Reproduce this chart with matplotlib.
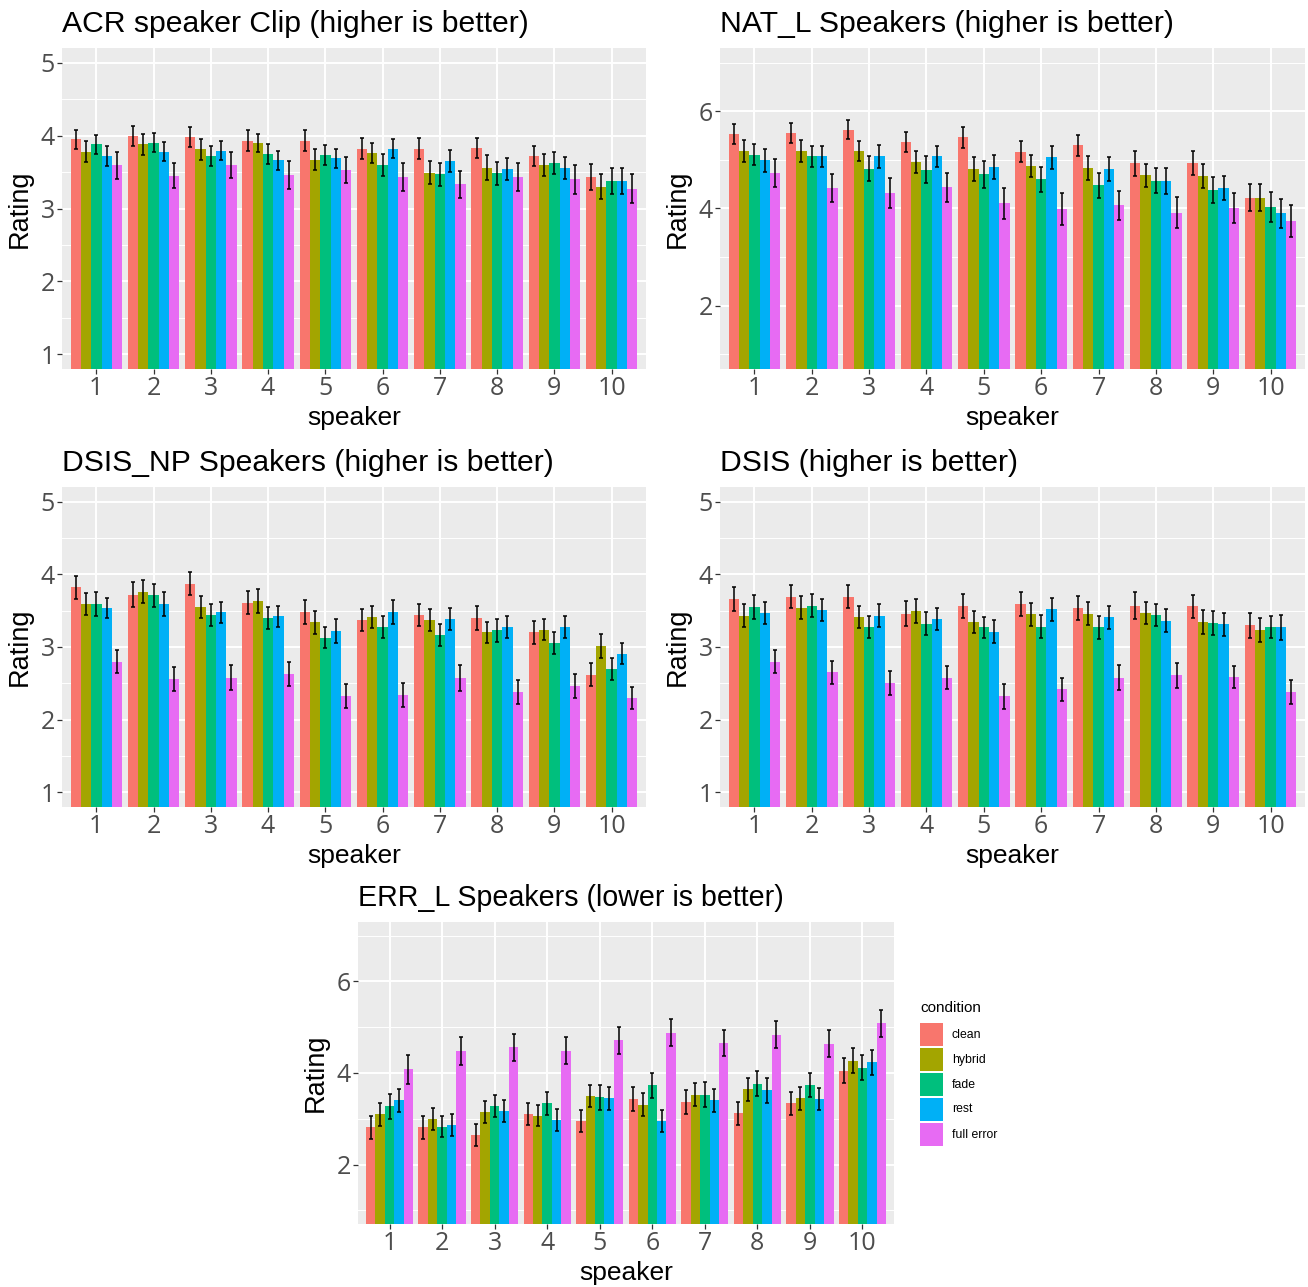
"""Speaker rating bar charts (ggplot-like) for five listening tests."""

import matplotlib
matplotlib.use("Agg")
import matplotlib.pyplot as plt
from matplotlib.patches import Rectangle
import numpy as np

W, H = 1308, 1287

speakers = list(range(1, 11))
conditions = ["clean", "hybrid", "fade", "rest", "full error"]
colors = ["#F8766D", "#A3A500", "#00BF7D", "#00B0F6", "#E76BF3"]

# rows = condition, columns = speaker 1..10
acr_mean = [
    [3.95, 3.99, 3.98, 3.93, 3.93, 3.82, 3.82, 3.83, 3.72, 3.43],
    [3.78, 3.88, 3.81, 3.90, 3.67, 3.76, 3.49, 3.56, 3.60, 3.30],
    [3.88, 3.90, 3.72, 3.75, 3.73, 3.60, 3.47, 3.48, 3.62, 3.38],
    [3.72, 3.78, 3.79, 3.66, 3.69, 3.82, 3.65, 3.54, 3.55, 3.38],
    [3.59, 3.45, 3.60, 3.46, 3.53, 3.43, 3.33, 3.43, 3.40, 3.27],
]
acr_err = [
    [.13, .14, .14, .14, .14, .145, .14, .14, .14, .18],
    [.14, .14, .14, .12, .14, .14, .155, .17, .15, .175],
    [.13, .13, .14, .14, .14, .15, .16, .155, .15, .18],
    [.14, .13, .13, .13, .13, .13, .15, .15, .15, .18],
    [.18, .17, .18, .19, .18, .19, .19, .19, .195, .20],
]

nat_mean = [
    [5.53, 5.55, 5.62, 5.37, 5.46, 5.17, 5.30, 4.93, 4.93, 4.22],
    [5.18, 5.18, 5.18, 4.95, 4.81, 4.88, 4.83, 4.68, 4.67, 4.22],
    [5.11, 5.07, 4.82, 4.80, 4.70, 4.60, 4.48, 4.57, 4.38, 4.03],
    [4.99, 5.07, 5.07, 5.07, 4.85, 5.05, 4.81, 4.56, 4.42, 3.90],
    [4.73, 4.42, 4.32, 4.44, 4.11, 3.99, 4.07, 3.91, 4.01, 3.74],
]
nat_err = [
    [.21, .21, .20, .21, .22, .21, .22, .26, .25, .28],
    [.22, .22, .21, .23, .25, .23, .25, .24, .24, .28],
    [.22, .22, .26, .27, .27, .26, .26, .26, .27, .30],
    [.24, .22, .24, .22, .24, .23, .24, .27, .25, .30],
    [.28, .29, .30, .30, .32, .32, .30, .32, .31, .33],
]

dsisnp_mean = [
    [3.82, 3.72, 3.87, 3.61, 3.48, 3.37, 3.44, 3.40, 3.20, 2.62],
    [3.59, 3.76, 3.55, 3.63, 3.34, 3.41, 3.37, 3.20, 3.24, 3.02],
    [3.59, 3.71, 3.44, 3.40, 3.13, 3.27, 3.16, 3.23, 3.06, 2.70],
    [3.54, 3.59, 3.48, 3.42, 3.22, 3.48, 3.39, 3.27, 3.27, 2.91],
    [2.80, 2.56, 2.58, 2.63, 2.33, 2.34, 2.57, 2.38, 2.47, 2.30],
]
dsisnp_err = [
    [.16, .17, .16, .16, .17, .155, .155, .17, .16, .16],
    [.15, .16, .15, .165, .16, .155, .15, .145, .15, .165],
    [.16, .16, .15, .15, .15, .15, .15, .155, .15, .15],
    [.14, .16, .145, .15, .16, .16, .15, .15, .15, .15],
    [.16, .165, .17, .17, .165, .165, .18, .165, .165, .155],
]

dsis_mean = [
    [3.66, 3.69, 3.69, 3.46, 3.57, 3.59, 3.53, 3.57, 3.56, 3.30],
    [3.43, 3.54, 3.41, 3.49, 3.34, 3.45, 3.46, 3.47, 3.35, 3.24],
    [3.55, 3.57, 3.28, 3.32, 3.27, 3.28, 3.27, 3.44, 3.33, 3.28],
    [3.47, 3.51, 3.43, 3.38, 3.21, 3.52, 3.41, 3.36, 3.31, 3.27],
    [2.80, 2.65, 2.50, 2.58, 2.32, 2.42, 2.58, 2.61, 2.59, 2.38],
]
dsis_err = [
    [.165, .16, .16, .175, .165, .165, .165, .18, .16, .17],
    [.16, .155, .15, .165, .15, .16, .16, .155, .165, .165],
    [.16, .155, .15, .155, .145, .16, .16, .145, .165, .15],
    [.155, .15, .155, .15, .16, .16, .16, .16, .155, .17],
    [.16, .16, .165, .16, .17, .16, .17, .17, .15, .16],
]

err_mean = [
    [2.81, 2.81, 2.65, 3.10, 2.95, 3.43, 3.37, 3.12, 3.34, 4.05],
    [3.10, 2.99, 3.15, 3.07, 3.50, 3.31, 3.53, 3.64, 3.45, 4.27],
    [3.27, 2.83, 3.27, 3.34, 3.47, 3.73, 3.53, 3.77, 3.74, 4.12],
    [3.40, 2.87, 3.18, 2.97, 3.45, 2.95, 3.40, 3.62, 3.43, 4.23],
    [4.08, 4.48, 4.56, 4.49, 4.72, 4.88, 4.65, 4.84, 4.64, 5.09],
]
err_err = [
    [.25, .25, .245, .245, .25, .26, .26, .25, .25, .275],
    [.25, .24, .245, .235, .245, .25, .25, .255, .25, .27],
    [.27, .23, .24, .25, .27, .275, .265, .275, .27, .28],
    [.245, .24, .24, .245, .25, .24, .25, .27, .24, .28],
    [.31, .30, .295, .295, .295, .30, .285, .295, .29, .295],
]

TITLE_FONT = ["Liberation Sans", "DejaVu Sans"]
TICK_FONT = ["Open Sans", "DejaVu Sans"]

fig = plt.figure(figsize=(W / 100, H / 100), dpi=100)


def px_axes(left, top, right, bottom):
    return fig.add_axes([left / W, 1 - bottom / H, (right - left) / W, (bottom - top) / H])


def draw_panel(rect, title, means, errs, scale, title_size=21.7):
    left, top, right, bottom = rect
    ax = px_axes(*rect)
    ax.set_facecolor("#EBEBEB")
    for s in ax.spines.values():
        s.set_visible(False)
    x = np.arange(1, 11)
    bw = 0.18
    for i, (m, e) in enumerate(zip(means, errs)):
        xi = x + (i - 2) * bw
        ax.bar(xi, m, width=bw, color=colors[i], zorder=2)
        ax.errorbar(xi, m, yerr=e, fmt="none", ecolor="black", elinewidth=1.1,
                    capsize=1.6, capthick=1.1, zorder=3)
    ax.set_xlim(0.4, 10.6)
    ax.set_xticks(x)
    ax.set_xticklabels([str(s) for s in speakers])
    if scale == 5:
        ax.set_ylim(0.8, 5.2)
        ax.set_yticks([1, 2, 3, 4, 5])
        ax.set_yticks([1.5, 2.5, 3.5, 4.5], minor=True)
    else:
        ax.set_ylim(0.7, 7.3)
        ax.set_yticks([2, 4, 6])
        ax.set_yticks([1, 3, 5, 7], minor=True)
    ax.set_axisbelow(True)
    ax.grid(True, which="major", color="white", linewidth=1.4, zorder=0)
    ax.grid(True, which="minor", axis="y", color="white", linewidth=0.7, zorder=0)
    ax.tick_params(which="major", length=3.5, width=0.9, color="#333333",
                   labelsize=18, labelcolor="#4D4D4D", pad=1.5)
    ax.tick_params(which="minor", length=0)
    for lab in ax.get_xticklabels() + ax.get_yticklabels():
        lab.set_family(TICK_FONT)

    fig.text(left / W, 1 - (top - 24) / H, title, fontsize=title_size, family=TITLE_FONT,
             ha="left", va="center")
    fig.text((left + right) / 2 / W, 1 - (bottom + 49) / H, "speaker", fontsize=19,
             family=TITLE_FONT, ha="center", va="center")
    fig.text((left - 42) / W, 1 - (top + bottom) / 2 / H, "Rating", fontsize=19.5,
             family=TITLE_FONT, ha="center", va="center", rotation=90)
    return ax


draw_panel((62, 48, 646, 369), "ACR speaker Clip (higher is better)", acr_mean, acr_err, 5)
draw_panel((720, 48, 1305, 369), "NAT_L Speakers (higher is better)", nat_mean, nat_err, 7)
draw_panel((62, 487, 646, 807), "DSIS_NP Speakers (higher is better)", dsisnp_mean, dsisnp_err, 5)
draw_panel((720, 487, 1305, 807), "DSIS (higher is better)", dsis_mean, dsis_err, 5)
draw_panel((358, 922, 894, 1224), "ERR_L Speakers (lower is better)", err_mean, err_err, 7,
           title_size=20.6)

# legend
leg = px_axes(910, 995, 1010, 1150)
leg.set_xlim(910, 1010)
leg.set_ylim(1150, 995)
leg.axis("off")
leg.text(920, 1008, "condition", fontsize=11, family=TITLE_FONT, ha="left", va="center")
for i, (name, col) in enumerate(zip(conditions, colors)):
    y0 = 1023 + 25 * i
    leg.add_patch(Rectangle((920, y0), 23, 23, facecolor=col, edgecolor="none"))
    leg.text(952, y0 + 11.5, name, fontsize=8.8, family=TITLE_FONT, ha="left", va="center")

fig.savefig("out.png", dpi=100)
